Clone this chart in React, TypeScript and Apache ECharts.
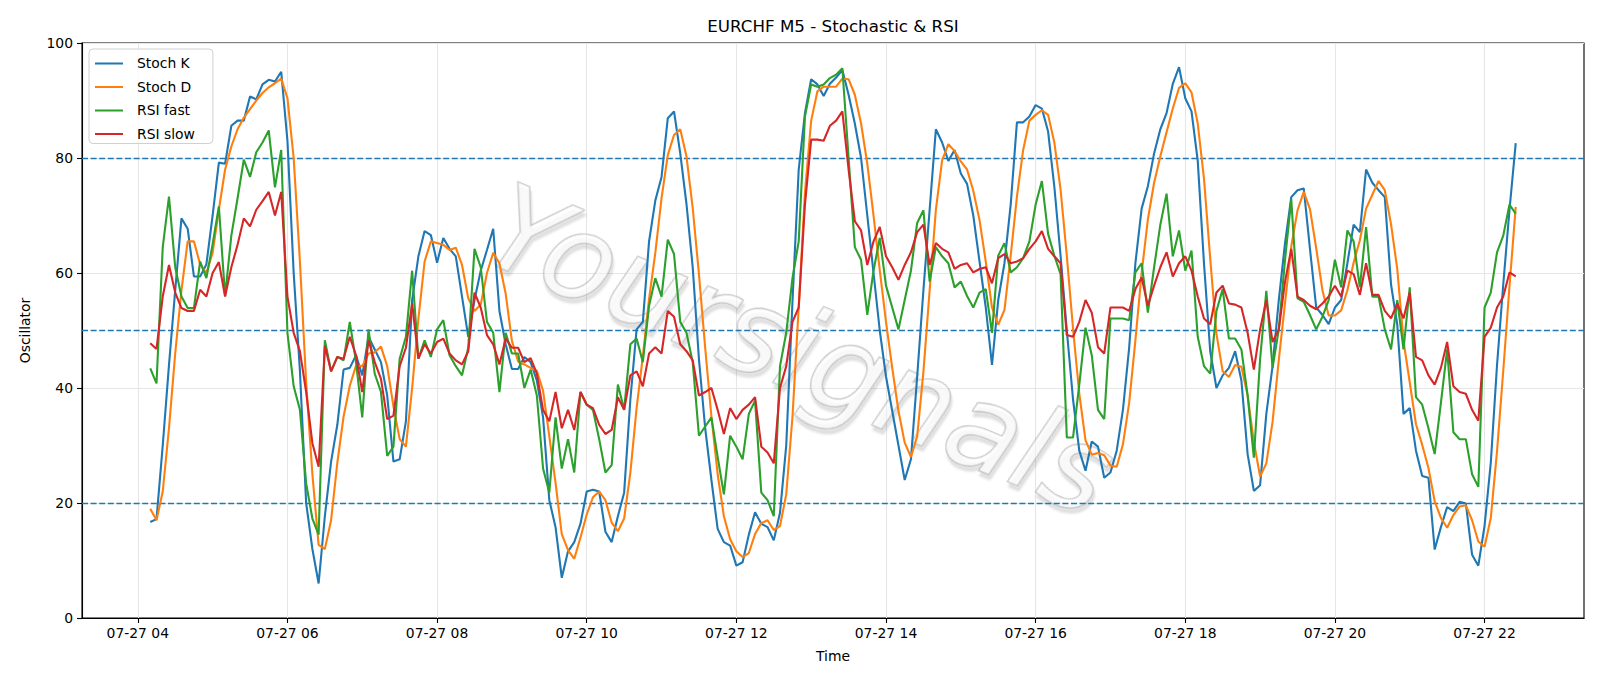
import React, { useEffect, useRef } from "react";
import * as echarts from "echarts";

// time axis: first sample 07-27 04:10, one sample every 5 minutes (hours of day)
const startHour = 4 + 10 / 60;
const stepHour = 5 / 60;

const stochK = [
  16.7, 17.2, 30, 44, 57, 69.5, 67.7, 59.4, 59.4, 61.5,
  70, 79.2, 79, 85.6, 86.5, 86.5, 90.7, 90.2, 92.8, 93.6,
  93.3, 95, 83, 60, 43, 20, 12, 6, 17.7, 27.2,
  33.6, 43.2, 43.5, 45.7, 42.2, 48.9, 46.7, 44.5, 38.7, 27.2,
  27.6, 34.2, 55.3, 62.9, 67.3, 66.6, 61.8, 66.1, 64.2, 62.9,
  55.9, 48.9, 55.3, 60.4, 64, 67.7, 53.4, 47.6, 43.3, 43.3,
  45.4, 44.5, 41.3, 34.9, 20.5, 15.8, 7, 11.6, 13.2, 16.4,
  22, 22.3, 22, 15, 13.2, 17.7, 21.8, 38, 50.2, 51.5,
  65.5, 72.6, 76.7, 86.9, 88.1, 80.8, 72, 61, 45, 33,
  24, 15.5, 13.2, 12.6, 9.1, 9.7, 14.5, 18.4, 16.4, 15.8,
  13.5, 18.3, 30, 55, 78, 87.8, 93.7, 92.8, 90.8, 92.9,
  94, 95.3, 91, 86, 80, 70, 60, 50, 42, 36,
  30, 24, 27.6, 42, 57, 71, 85, 82.7, 79.5, 81.4,
  77.3, 75.5, 70, 62, 54, 44, 55.3, 61.7, 71.9, 86.2,
  86.2, 87.2, 89.2, 88.6, 84.6, 75, 63, 50, 38, 29.1,
  25.6, 30.7, 29.8, 24.4, 25.3, 29.1, 36.2, 47, 61.7, 71.2,
  75.1, 80.8, 85, 87.8, 92.9, 95.8, 90.4, 88.1, 79.5, 61.7,
  46.4, 40, 42.2, 43.5, 46.4, 41.3, 28.5, 22.1, 23.1, 35.5,
  43.8, 55.3, 65.2, 73.2, 74.4, 74.7, 64.2, 54, 52.7, 51.1,
  54, 55.3, 61.7, 68.4, 67.1, 78, 75.7, 74.4, 73.2, 58,
  51, 35.5, 36.5, 29.1, 24.7, 24.4, 11.9, 15.8, 19.3, 18.6,
  20.2, 19.9, 11, 9.1, 16, 27, 44, 58, 71, 82.6,
];

const stochD = [
  19, 17, 22, 33, 46, 57, 65.5, 65.5, 61.5, 60,
  63.5, 71, 78, 82, 85, 87, 88.5, 90, 91.3, 92.3,
  93, 93.8, 90.4, 80, 62, 41, 25, 12.7, 12, 17,
  27, 35, 40.4, 43.9, 43.8, 46, 46.2, 47.2, 43.8, 36.8,
  31.1, 29.8, 40, 52, 62, 65.5, 65.2, 64.9, 64, 64.4,
  61.4, 55.6, 53.4, 54.5, 60, 63.5, 61.7, 56.4, 48.2, 44.6,
  44.1, 43.5, 43, 39.5, 31.6, 23.5, 14.6, 11.8, 10.3, 14,
  18, 21, 22, 20.5, 16.6, 15.1, 17.3, 25.3, 36.5, 45.5,
  55.5, 63.5, 73, 80.5, 84, 85, 80.3, 71.3, 59.8, 47,
  35, 25, 17.7, 13.7, 11.6, 10.6, 11.3, 14.6, 16.5, 17,
  15.3, 16, 21.5, 35, 54, 74, 86.5, 91.6, 92.4, 92.4,
  92.4, 93.8, 93.7, 91, 86, 79, 70, 60.5, 51.5, 43.5,
  36, 30.5, 28, 31.6, 42.8, 57, 71, 79.6, 82.4, 81.2,
  79.4, 78, 74.3, 69.2, 62, 54, 51, 53.6, 63, 73.3,
  81.4, 86.5, 87.5, 88.3, 87.5, 82.7, 74.5, 63, 50.3, 39,
  30.9, 28.4, 28.7, 28.3, 26.5, 26.3, 30.2, 37.4, 48.3, 60,
  69.3, 75.7, 80.3, 84.5, 88.6, 92.2, 93, 91.4, 86, 76.4,
  62.5, 49.4, 42.9, 41.9, 44, 43.7, 38.7, 30.6, 24.6, 26.9,
  34.1, 44.9, 54.8, 64.6, 70.9, 74.1, 71.1, 64.3, 57, 52.6,
  52.6, 53.5, 57, 61.8, 65.7, 71.2, 73.6, 76, 74.4, 68.5,
  60.7, 48.2, 41, 33.7, 30.1, 26.1, 20.3, 17.4, 15.7, 17.9,
  19.4, 19.6, 17, 13.3, 12.4, 17.4, 29, 43, 57.7, 71.5,
];

const rsiFast = [
  43.4, 40.8, 64.5, 73.3, 61, 55.9, 53.9, 53.9, 62, 59.1,
  65, 71.6, 56, 66.5, 73, 79.7, 76.7, 81, 82.7, 84.8,
  74.9, 81.4, 49.6, 40.3, 36.2, 23.4, 17.3, 14.5, 48.3, 42.9,
  45.4, 44.8, 51.5, 44.5, 34.9, 50.2, 42.5, 39.3, 28.2, 29.8,
  45.1, 48.9, 60.4, 45.1, 48.3, 45.4, 50.2, 51.8, 45.7, 43.8,
  42.2, 47, 64.2, 61, 51.5, 49.6, 39.3, 49.6, 46, 46,
  40, 43.2, 38.7, 26, 21.8, 34.9, 26, 31.1, 25.3, 39.3,
  37.1, 36.2, 31.1, 25.3, 26.6, 40.6, 36.2, 47.6, 48.6, 44.5,
  54.3, 59.1, 55.9, 65.8, 63.3, 51.5, 49.6, 44.5, 31.7, 33.3,
  34.9, 28, 21.5, 31.7, 29.8, 27.6, 35.5, 37.8, 21.8, 20.5,
  17.7, 43.8, 49.6, 59.1, 65.5, 87.2, 92.8, 92.4, 92.8, 93.9,
  94.5, 95.6, 80, 64.5, 62.3, 52.7, 60.4, 66.1, 57.8, 54,
  50.2, 55.3, 60.4, 68.7, 70.9, 58.5, 64.5, 62.9, 61.7, 57.5,
  58.5, 56, 54, 56.6, 57.2, 49.6, 63, 65.2, 60.1, 61,
  62.6, 65.5, 71.9, 76, 66.8, 63, 59.8, 31.4, 31.4, 40.6,
  50.5, 45.7, 36.2, 34.6, 52.1, 52.1, 52.1, 51.8, 60.1, 61.7,
  53.1, 61, 68.4, 73.8, 62.9, 67.4, 60.4, 63.9, 48.9, 43.8,
  42.5, 53.4, 57.2, 48.6, 48.6, 46.7, 38.7, 27.9, 45, 56.9,
  43.5, 50.2, 62.3, 72.8, 55.6, 55, 52.7, 50.2, 52.4, 55.3,
  62.3, 57.5, 67.4, 65.5, 57.5, 68, 55.9, 55.9, 50.2, 46.7,
  55.3, 46.7, 57.5, 38.4, 37.1, 33, 28.5, 37.4, 46.7, 32.3,
  31.1, 31.1, 25, 22.8, 54, 56.6, 63.6, 66.5, 71.9, 70.3,
];

const rsiSlow = [
  47.8, 46.8, 55.9, 61.4, 56.6, 53.9, 53.4, 53.4, 57.1, 55.9,
  60, 61.9, 55.9, 61, 64.9, 69.5, 68.1, 71, 72.5, 74.1,
  70, 74.1, 55.9, 49.6, 46.4, 39.3, 30.4, 26.3, 47.3, 42.9,
  45.4, 45.1, 48.9, 45.7, 39.3, 48.3, 44.5, 41.6, 34.6, 35.2,
  43.8, 47, 54.7, 45.1, 47.6, 46, 48, 48.6, 46, 44.8,
  44.1, 46.4, 56.6, 54, 49.2, 47.6, 44.1, 48.6, 47, 47,
  44.5, 45.2, 42.5, 36.2, 34.2, 39.3, 33, 36.2, 32.7, 39.3,
  37.1, 36.5, 33.6, 32, 32.7, 38.4, 36.2, 42.2, 42.9, 40.3,
  46, 47.1, 46, 53.4, 52.4, 47.6, 46.4, 44.8, 38.7, 39.3,
  40, 36.2, 32, 36.5, 34.6, 36.2, 37.1, 38.4, 29.8, 28.8,
  26.9, 40, 43.8, 51.5, 54, 71.9, 83.2, 83.2, 83, 85.6,
  86.5, 88.1, 78, 69, 67.4, 61.4, 65.5, 68, 62.9, 61,
  58.8, 61.4, 63.6, 67.1, 68.4, 61.4, 65.2, 64.2, 63.6, 60.7,
  61.4, 61.7, 60.1, 60.7, 61, 58.2, 62.6, 63.3, 61.7, 62,
  62.6, 64.2, 65.5, 67.3, 64.2, 62.9, 61.7, 49.2, 48.9, 51.5,
  55.3, 53.1, 47.1, 46, 54, 54, 54, 53.4, 57.2, 59.2,
  54.3, 57.8, 61, 63.6, 59.4, 61.7, 62.9, 60.4, 55.9, 52.1,
  51.1, 56.6, 57.8, 54.7, 54.5, 54, 49.6, 43.2, 50.2, 55.3,
  48, 50.2, 58.5, 64.2, 55.9, 55.3, 54.3, 53.7, 54.7, 55.9,
  57.8, 55.9, 60.4, 59.8, 56.2, 61.7, 56.2, 56.2, 53.4, 52.1,
  54.7, 52.1, 56.6, 45.4, 44.8, 42.2, 40.6, 43.5, 48, 40.3,
  39.3, 39, 36.2, 34.3, 48.9, 50.5, 54, 55.9, 60.1, 59.4,
];

const seriesNames = ["Stoch K", "Stoch D", "RSI fast", "RSI slow"];
const seriesColors = ["#1f77b4", "#ff7f0e", "#2ca02c", "#d62728"];
const xTickHours = [4, 6, 8, 10, 12, 14, 16, 18, 20, 22];
const levelLines = [20, 50, 80];
const titleText = "EURCHF M5 - Stochastic & RSI";
const watermarkText = "Yoursignals";

const FONT = "DejaVu Sans";
// thin horizontal bar in a 28x14 box (corner specks fix the bounding box)
const LINE_ICON =
  "path://M0,0h0.3v0.05h-0.3z M0,6.45h28v2.1h-28z M27.7,13.95h0.3v0.05h-0.3z";

export default function App() {
  const ref = useRef<HTMLDivElement>(null);

  useEffect(() => {
    if (!ref.current) return;
    const chart = echarts.init(ref.current, undefined, { renderer: "svg" });
    const all = [stochK, stochD, rsiFast, rsiSlow];
    const n = stochK.length;
    const first = startHour;
    const last = startHour + (n - 1) * stepHour;
    const pad = (last - first) * 0.05;

    const series: any[] = all.map((arr, k) => ({
      name: seriesNames[k],
      type: "line",
      symbol: "none",
      data: arr.map((v, i) => [startHour + i * stepHour, v]),
      lineStyle: { width: 2.1, color: seriesColors[k] },
      itemStyle: { color: seriesColors[k] },
      z: 3 + k,
      ...(k === 0
        ? {
            markLine: {
              silent: true,
              symbol: "none",
              label: { show: false },
              lineStyle: { color: "#1f77b4", width: 1.4, type: [6, 2.6] },
              data: levelLines.map((y) => ({ yAxis: y })),
              z: 2,
            },
          }
        : {}),
    }));

    chart.setOption({
      animation: false,
      textStyle: { fontFamily: FONT },
      title: {
        text: titleText,
        left: 828,
        top: 12,
        textAlign: "center",
        textStyle: { fontFamily: FONT, fontSize: 16.7, fontWeight: "normal", color: "#000" },
      },
      legend: {
        data: seriesNames.map((name, k) => ({ name, icon: LINE_ICON, itemStyle: { color: seriesColors[k] } })),
        orient: "vertical",
        left: 89,
        top: 49,
        itemWidth: 28,
        itemHeight: 14,
        itemGap: 9.5,
        padding: [7, 18, 3, 6],
        backgroundColor: "rgba(255,255,255,0.8)",
        borderColor: "#d0d0d0",
        borderWidth: 1,
        borderRadius: 4,
        textStyle: { fontFamily: FONT, fontSize: 13.9, color: "#000", padding: [0, 0, 0, 9] },
      },
      grid: { left: 82, top: 43, right: 16, bottom: 68, show: true, borderColor: "#000", borderWidth: 1.1, backgroundColor: "transparent" },
      xAxis: {
        type: "value",
        min: first - pad,
        max: last + pad,
        name: "Time",
        nameLocation: "middle",
        nameGap: 31,
        nameTextStyle: { fontFamily: FONT, fontSize: 13.9, color: "#000" },
        axisLine: { lineStyle: { color: "#000", width: 1.1 } },
        axisTick: { show: true, length: 5, customValues: xTickHours, lineStyle: { color: "#000", width: 1.1 } },
        axisLabel: {
          customValues: xTickHours,
          margin: 8,
          fontFamily: FONT,
          fontSize: 13.9,
          color: "#000",
          formatter: (v: number) => "07-27 " + String(Math.round(v)).padStart(2, "0"),
        },
        splitLine: { show: true, lineStyle: { color: "#e6e6e6", width: 1.1 } },
      },
      yAxis: {
        type: "value",
        min: 0,
        max: 100,
        interval: 20,
        name: "Oscillator",
        nameLocation: "middle",
        nameGap: 50,
        nameTextStyle: { fontFamily: FONT, fontSize: 13.9, color: "#000" },
        axisLine: { show: true, lineStyle: { color: "#000", width: 1.1 } },
        axisTick: { show: true, length: 5, lineStyle: { color: "#000", width: 1.1 } },
        axisLabel: { margin: 9, fontFamily: FONT, fontSize: 13.9, color: "#000" },
        splitLine: { show: true, lineStyle: { color: "#e6e6e6", width: 1.1 } },
      },
      graphic: [
        {
          type: "text",
          x: 800,
          y: 350,
          rotation: -0.4,
          z: 1,
          silent: true,
          style: {
            text: watermarkText,
            font: "italic 200 118px 'DejaVu Sans'",
            fill: "rgba(255,255,255,0.5)",
            stroke: "rgba(140,140,140,0.55)",
            lineWidth: 1.6,
            textAlign: "center",
            textVerticalAlign: "middle",
            textShadowColor: "rgba(0,0,0,0.22)",
            textShadowOffsetX: 3,
            textShadowOffsetY: 4,
            textShadowBlur: 2,
          },
        },
      ],
      series,
    });

    return () => chart.dispose();
  }, []);

  return <div ref={ref} style={{ position: "absolute", left: 0, top: 0, width: 1600, height: 686 }} />;
}
